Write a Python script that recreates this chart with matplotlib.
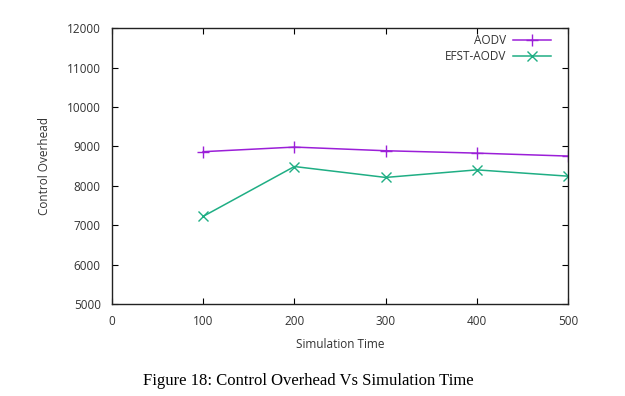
import numpy as np
import matplotlib.pyplot as plt

# dati
tempo = [100, 200, 300, 400, 500]
aodv = [8866, 8983, 8890, 8830, 8755]
efst_aodv = [7225, 8490, 8213, 8405, 8245]

plt.rcParams['font.family'] = 'Open Sans'
grigio = '#333333'

fig = plt.figure(figsize=(6.25, 3.96), dpi=100)
ax = fig.add_axes([0.179, 0.232, 0.73, 0.697])

ax.plot(tempo, aodv, color='#9b1fd8', marker='+', markersize=9, lw=1.1, label='AODV')
ax.plot(tempo, efst_aodv, color='#1fae84', marker='x', markersize=7, lw=1.1, label='EFST-AODV')

ax.set_xlim(0, 500)
ax.set_ylim(5000, 12000)
ax.set_xticks(np.arange(0, 501, 100))
ax.set_yticks(np.arange(5000, 12001, 1000))
ax.tick_params(direction='in', top=True, right=True, labelsize=8.5, length=4,
               labelcolor=grigio, pad=8)
ax.set_xlabel('Simulation Time', fontsize=8.5, color=grigio, labelpad=7)
ax.set_ylabel('Control Overhead', fontsize=8.5, color=grigio, labelpad=11)
for s in ax.spines.values():
    s.set_linewidth(1.0)
    s.set_color('#222222')

leg = ax.legend(loc='upper right', frameon=False, fontsize=8.5, markerfirst=False,
                handlelength=3.2, handletextpad=0.6, borderpad=0, borderaxespad=0,
                bbox_to_anchor=(0.963, 0.98), labelspacing=0.3)
for t in leg.get_texts():
    t.set_ha('right')
    t.set_color(grigio)

fig.text(0.494, 0.038, 'Figure 18: Control Overhead Vs Simulation Time',
         ha='center', va='center', fontsize=12, family='Liberation Serif')

fig.savefig('out.png', dpi=100)
